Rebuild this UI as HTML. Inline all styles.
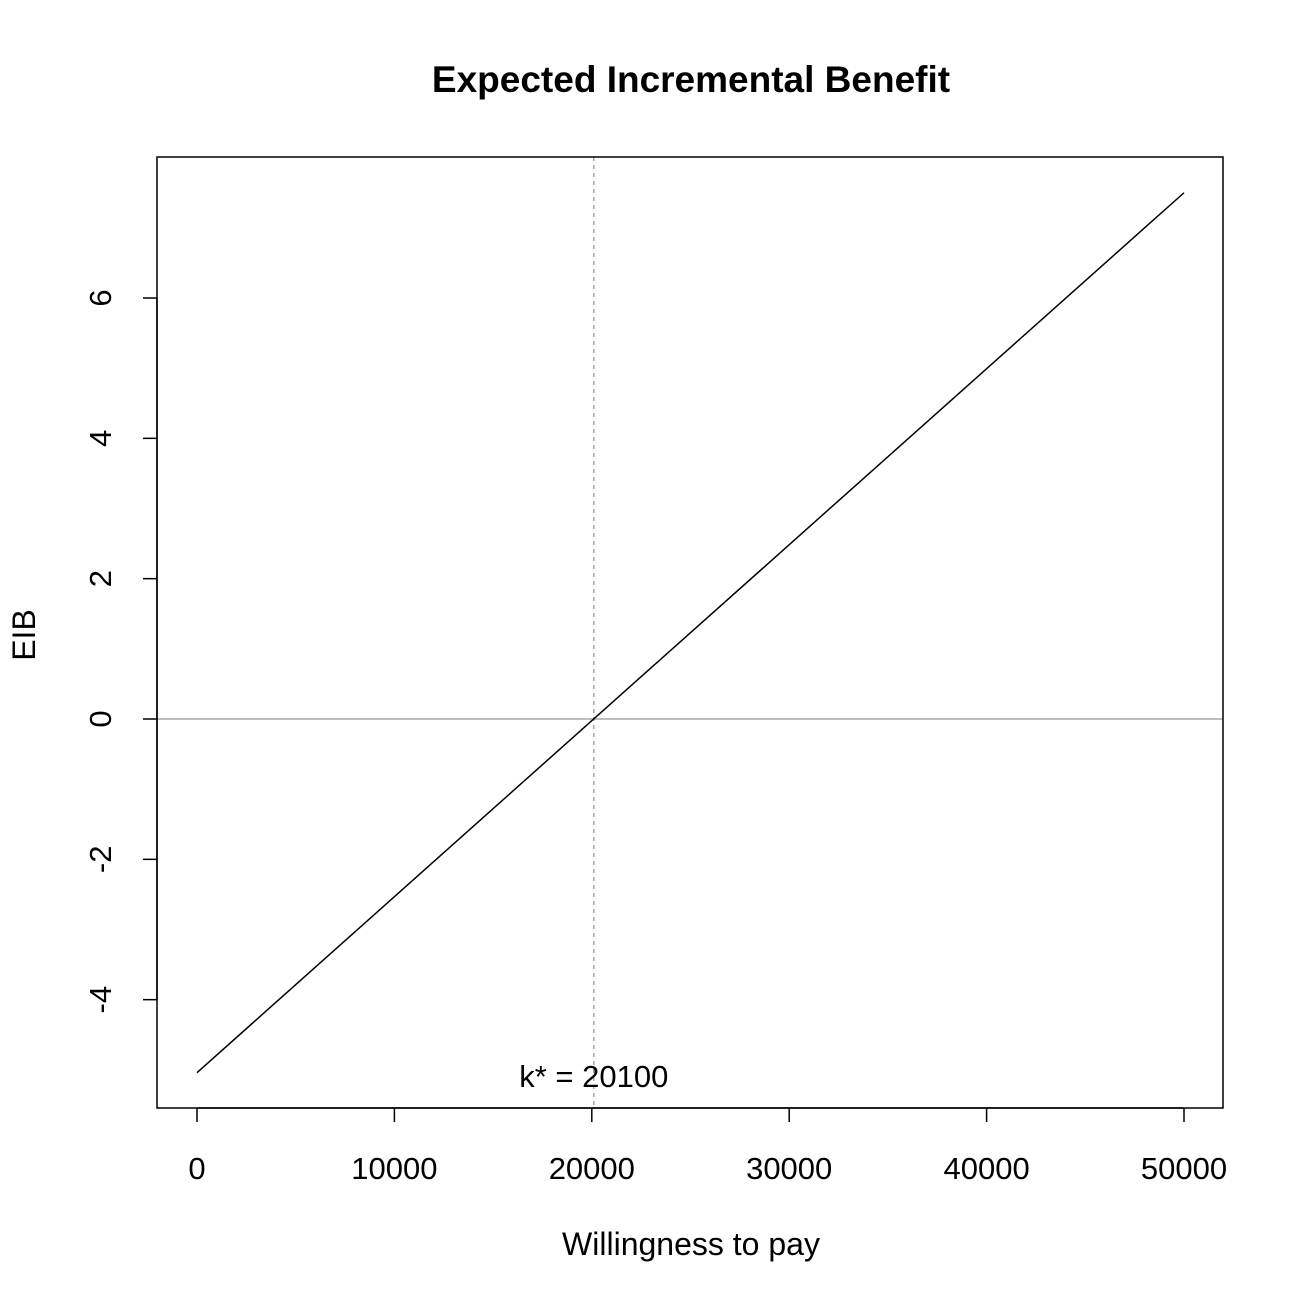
<!DOCTYPE html>
<html><head><meta charset="utf-8"><style>
html,body{margin:0;padding:0;background:#fff;}
svg text{font-family:"Liberation Sans",Arial,sans-serif;fill:#000;}
</style></head><body>
<svg id="chart" width="1305" height="1305" viewBox="0 0 1305 1305" xmlns="http://www.w3.org/2000/svg">
<rect width="1305" height="1305" fill="#fff"/>
<text x="691" y="92" font-size="37" font-weight="bold" text-anchor="middle">Expected Incremental Benefit</text>
<text x="691" y="1255" font-size="32" text-anchor="middle">Willingness to pay</text>
<text transform="translate(35,635) rotate(-90)" font-size="32" text-anchor="middle">EIB</text>
<g id="marks"></g>
<rect x="157" y="157" width="1066" height="951" fill="none" stroke="#000" stroke-width="1.5"/>
</svg>
<script>
const xTicks = [0, 10000, 20000, 30000, 40000, 50000];
const yTicks = [-4, -2, 0, 2, 4, 6];
const wtp = [0, 50000];
const eib = [-5.04, 7.5];
const kStar = 20100;
const kLabel = "k* = 20100";

const X = v => 197 + (v - 0) * (1184 - 197) / 50000;
const Y = v => 719 - v * (719 - 298) / 6;
const NS = "http://www.w3.org/2000/svg";
const g = document.getElementById('marks');
function mk(tag, attrs, parent) {
  const e = document.createElementNS(NS, tag);
  for (const k in attrs) e.setAttribute(k, attrs[k]);
  (parent || g).appendChild(e);
  return e;
}
let z = mk('line', {x1:157, x2:1223, y1:Y(0), y2:Y(0), stroke:'#bebebe', 'stroke-width':2});


let kl = mk('line', {x1:X(kStar), x2:X(kStar), y1:157, y2:1108, stroke:'#999', 'stroke-width':1.3, 'stroke-dasharray':'4,4'});


let pts = wtp.map((w, i) => X(w) + ',' + Y(eib[i])).join(' ');
let pl = mk('polyline', {points:pts, fill:'none', stroke:'#000', 'stroke-width':1.5});


let kt = mk('text', {x:X(kStar), y:1087, 'font-size':31, 'text-anchor':'middle'});
kt.textContent = kLabel;


let xa = mk('line', {x1:X(xTicks[0]), x2:X(xTicks[xTicks.length-1]), y1:1108, y2:1108, stroke:'#000', 'stroke-width':1.5});


xTicks.forEach(t => {
  let l = mk('line', {x1:X(t), x2:X(t), y1:1108, y2:1122, stroke:'#000', 'stroke-width':1.5});
  
  
  let tx = mk('text', {x:X(t), y:1179, 'font-size':31, 'text-anchor':'middle'});
  tx.textContent = t;
  
  
});
let ya = mk('line', {x1:157, x2:157, y1:Y(yTicks[0]), y2:Y(yTicks[yTicks.length-1]), stroke:'#000', 'stroke-width':1.5});


yTicks.forEach(t => {
  let l = mk('line', {x1:143, x2:157, y1:Y(t), y2:Y(t), stroke:'#000', 'stroke-width':1.5});
  
  
  let tx = mk('text', {transform:'translate(111,' + Y(t) + ') rotate(-90)', 'font-size':31, 'text-anchor':'middle'});
  tx.textContent = t;
  
  
});
</script>
</body></html>
